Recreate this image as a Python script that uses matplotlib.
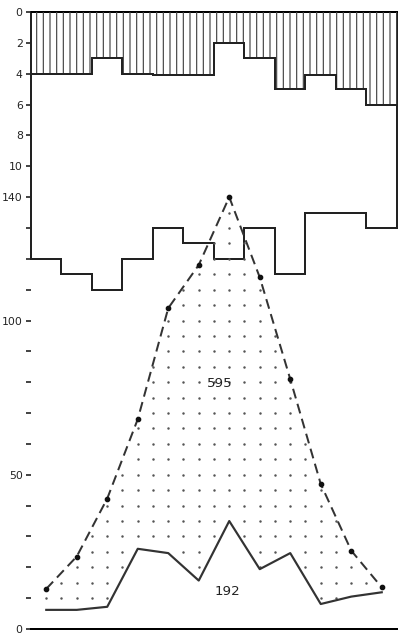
import numpy as np
import matplotlib
matplotlib.use("Agg")
import matplotlib.pyplot as plt

# ---- data (12 monthly bins) ----
edges = np.arange(13)
centers = np.arange(12) + 0.5
depth_top = [4.0, 4.0, 3.0, 4.0, 4.1, 4.1, 2.0, 3.0, 5.0, 4.1, 5.0, 6.0]          # upper panel, 0-10 scale (inverted)
step_lower = [120, 115, 110, 120, 130, 125, 120, 130, 115, 135, 135, 130]         # outline on 0-140 scale
dashed_vals = [13, 23.5, 42.3, 68, 104, 118, 140, 114, 81, 47, 25.4, 13.5]
solid_vals = [6.2, 6.2, 7.2, 26, 24.6, 15.7, 35, 19.4, 24.6, 8.1, 10.5, 11.9]
label_total_dashed = "595"
label_total_solid = "192"
lower_ticks = list(range(0, 141, 10))
lower_labels = {0: "0", 50: "50", 100: "100", 140: "140"}
top_ticks = [0, 2, 4, 6, 8, 10]

plt.rcParams['font.family'] = ['Liberation Sans Narrow', 'DejaVu Sans']
plt.rcParams['hatch.linewidth'] = 0.7

DPI = 120
fig = plt.figure(figsize=(399 / DPI, 634 / DPI), dpi=DPI)
ax = fig.add_axes([31 / 399, 1 - 629 / 634, (397 - 31) / 399, (629 - 12) / 634])
ax.set_xlim(0, 12)
ax.set_ylim(0, 200)

ax2 = ax.twinx()
ax2.set_ylim(40, 0)

for s in ["left", "right"]:
    ax.spines[s].set_visible(False)
for s in ax2.spines.values():
    s.set_visible(False)
ax.spines["top"].set_linewidth(1.2)
ax.spines["bottom"].set_linewidth(1.2)

# upper hatched panel
ax2.stairs(depth_top, edges, baseline=0, fill=True, facecolor="none",
           edgecolor="#444444", hatch="|||", linewidth=0)
ax2.stairs(depth_top, edges, baseline=None, color="#222222", linewidth=1.2)

# outline down to the lower step line
ax.stairs(step_lower, edges, baseline=200, color="#222222", linewidth=1.2, clip_on=False)

# dotted fill between solid and dashed
gx, gy = np.meshgrid(np.arange(0.5, 12, 0.5), np.arange(5, 145, 5))
lo = np.interp(gx, centers, solid_vals)
hi = np.interp(gx, centers, dashed_vals)
m = (gy > lo + 0.5) & (gy < hi - 0.3)
ax.scatter(gx[m], gy[m], s=2.2, color="#555555", linewidths=0, zorder=2)

# lines
ax.plot(centers, dashed_vals, color="#333333", linewidth=1.2,
        linestyle=(0, (5, 2.8)), zorder=3)
ax.plot(centers, dashed_vals, linestyle="none", marker="o", markersize=2.4,
        color="#111111", zorder=4)
ax.plot(centers, solid_vals, color="#333333", linewidth=1.3, zorder=3)

ax.text(6.2, 79.5, label_total_dashed, ha="center", va="center", fontsize=8,
        family="DejaVu Sans", color="#222222")
ax.text(6.43, 12.1, label_total_solid, ha="center", va="center", fontsize=8,
        family="DejaVu Sans", color="#222222")

# ticks
ax.set_xticks([])
ax.set_yticks(lower_ticks)
ax.set_yticklabels([lower_labels.get(t, "") for t in lower_ticks])
ax.tick_params(axis="y", direction="out", length=3, width=1.0, pad=2,
               labelsize=6.5, colors="#222222")
ax2.yaxis.set_ticks_position("left")
ax2.set_yticks(top_ticks)
ax2.set_yticklabels([str(t) for t in top_ticks])
ax2.tick_params(axis="y", direction="out", length=3, width=1.0, pad=2,
                labelsize=6.5, colors="#222222", left=True, labelleft=True,
                right=False, labelright=False)

fig.savefig("out.png", dpi=DPI)
